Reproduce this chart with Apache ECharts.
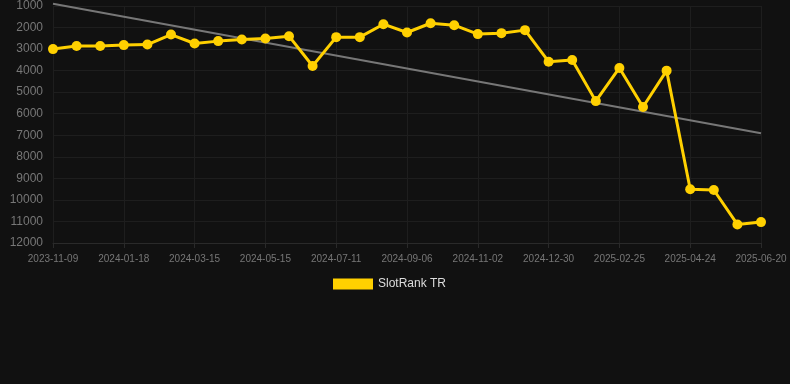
<!DOCTYPE html>
<html>
<head>
<meta charset="utf-8">
<script src="https://cdn.jsdelivr.net/npm/echarts@6/dist/echarts.min.js"></script>
<style>
  html, body { margin: 0; padding: 0; background: #111111; }
  #chart { width: 790px; height: 384px; }
</style>
</head>
<body>
<div id="chart"></div>
<script>
const dates = [
  '2023-11-09', '2023-12-02', '2023-12-25', '2024-01-18', '2024-02-06', '2024-02-25',
  '2024-03-15', '2024-04-04', '2024-04-24', '2024-05-15', '2024-06-03', '2024-06-22',
  '2024-07-11', '2024-07-30', '2024-08-18', '2024-09-06', '2024-09-25', '2024-10-14',
  '2024-11-02', '2024-11-21', '2024-12-10', '2024-12-30', '2025-01-18', '2025-02-06',
  '2025-02-25', '2025-03-16', '2025-04-04', '2025-04-24', '2025-05-13', '2025-06-01',
  '2025-06-20'
];
const rankTR = [
  3000, 2860, 2860, 2815, 2790, 2325, 2740, 2630, 2555, 2510, 2400, 3785,
  2445, 2445, 1845, 2230, 1800, 1890, 2305, 2260, 2120, 3585, 3505, 5415,
  3875, 5690, 4000, 9505, 9540, 11140, 11030
];
const trendEnds = [895, 6905];

const trendData = dates.map(function (d, i) {
  if (i === 0) return trendEnds[0];
  if (i === dates.length - 1) return trendEnds[1];
  return null;
});

const mychart = echarts.init(document.getElementById('chart'));
const option = {
  backgroundColor: '#111111',
  animation: false,
  grid: { left: 53, right: 29, top: 5, bottom: 141 },
  legend: {
    data: [{ name: 'SlotRank TR', icon: 'rect' }],
    left: 333,
    top: 278,
    padding: 0,
    itemWidth: 40,
    itemHeight: 11,
    itemGap: 5,
    textStyle: { color: '#dddddd', fontSize: 12, fontFamily: 'Liberation Sans, Arial, sans-serif' }
  },
  xAxis: {
    type: 'category',
    data: dates,
    boundaryGap: false,
    axisLine: { lineStyle: { color: '#2a2a2a' } },
    axisTick: { show: true, interval: 2, lineStyle: { color: '#2a2a2a' } },
    axisLabel: {
      interval: 2,
      color: '#777777',
      fontSize: 10,
      margin: 11,
      fontFamily: 'Liberation Sans, Arial, sans-serif'
    },
    splitLine: { show: true, interval: 2, lineStyle: { color: '#1e1e1e' } }
  },
  yAxis: {
    type: 'value',
    inverse: true,
    min: 1000,
    max: 12000,
    interval: 1000,
    axisLine: { show: false },
    axisTick: { show: false },
    axisLabel: {
      color: '#777777',
      fontSize: 12,
      margin: 10,
      fontFamily: 'Liberation Sans, Arial, sans-serif',
      formatter: function (v) { return String(v); }
    },
    splitLine: { lineStyle: { color: '#1e1e1e' } }
  },
  series: [
    {
      name: 'Trend',
      type: 'line',
      data: trendData,
      connectNulls: true,
      clip: false,
      symbol: 'none',
      lineStyle: { color: '#777777', width: 2 },
      silent: true,
      z: 1
    },
    {
      name: 'SlotRank TR',
      type: 'line',
      data: rankTR,
      symbol: 'circle',
      symbolSize: 10,
      itemStyle: { color: '#ffd000' },
      lineStyle: { color: '#ffd000', width: 3 },
      z: 3
    }
  ]
};
mychart.setOption(option);
window.addEventListener('resize', function () { mychart.resize(); });
</script>
</body>
</html>
